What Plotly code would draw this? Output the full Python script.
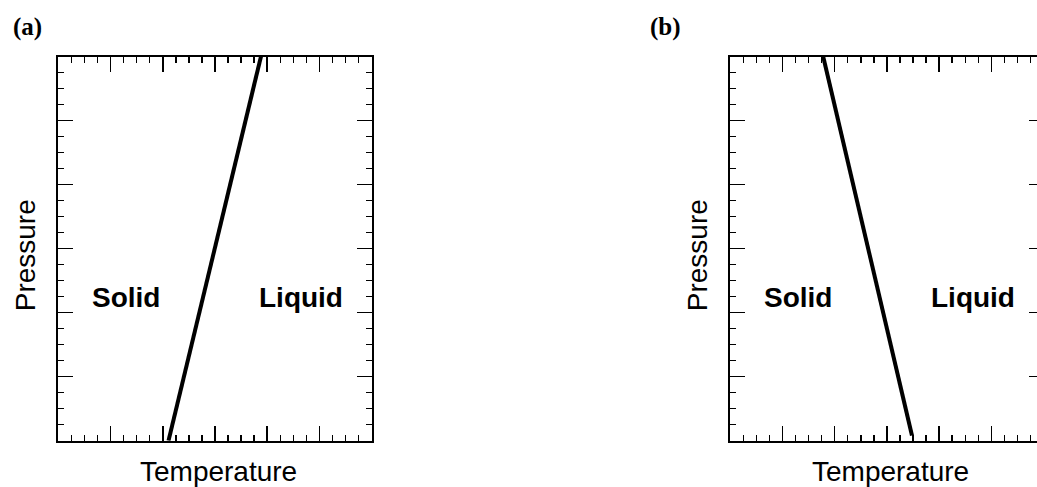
import plotly.graph_objects as go

# ---- data (phase boundary lines, arbitrary units 0..6) ----
temp_a = [2.11, 3.88]
pres_a = [0.0, 6.0]
temp_b = [3.48, 1.78]
pres_b = [0.08, 6.0]
region_labels = ["Solid", "Liquid"]
region_x = [1.30, 4.64]
region_y = [2.24, 2.24]
panel_labels = ["(a)", "(b)"]
x_title = "Temperature"
y_title = "Pressure"

# ---- layout geometry (pixels) ----
W, H = 1050, 487
A_L, A_R = 58.3, 371.7
B_L, B_R = 730.2, 1043.6
TOP, BOT = 56.5, 440.7

def px(x):
    return x / W

def py(y):
    return 1 - y / H

fig = go.Figure()
fig.add_trace(go.Scatter(x=temp_a, y=pres_a, mode="lines",
                         line=dict(color="black", width=4),
                         xaxis="x", yaxis="y", showlegend=False, hoverinfo="skip"))
fig.add_trace(go.Scatter(x=temp_b, y=pres_b, mode="lines",
                         line=dict(color="black", width=4),
                         xaxis="x2", yaxis="y2", showlegend=False, hoverinfo="skip"))

def axis(domain, anchor):
    return dict(domain=domain, anchor=anchor, range=[0, 6], dtick=1, tick0=0,
                showline=True, linecolor="black", linewidth=2, mirror="allticks",
                ticks="inside", ticklen=15, tickwidth=1.5, tickcolor="black",
                showgrid=False, zeroline=False, showticklabels=False, fixedrange=True,
                minor=dict(ticks="inside", ticklen=6, dtick=0.25, tick0=0,
                           tickwidth=1.5, tickcolor="black", showgrid=False))

ydom = [py(BOT), py(TOP)]
fig.update_layout(
    width=W, height=H, margin=dict(l=0, r=0, t=0, b=0),
    paper_bgcolor="white", plot_bgcolor="white",
    xaxis=axis([px(A_L), px(A_R)], "y"),
    yaxis=axis(ydom, "x"),
    xaxis2=axis([px(B_L), px(B_R)], "y2"),
    yaxis2=axis(ydom, "x2"),
)

ann = []
sans = "Liberation Sans, Arial, Helvetica, sans-serif"
serif = "Liberation Serif, Times New Roman, serif"
for (xr, yr, left, right, plab, plx) in [("x", "y", A_L, A_R, panel_labels[0], 11.0),
                                        ("x2", "y2", B_L, B_R, panel_labels[1], 648.0)]:
    for lab, lx, ly in zip(region_labels, region_x, region_y):
        ann.append(dict(text="<b>%s</b>" % lab, x=lx, y=ly, xref=xr, yref=yr,
                        xanchor="center", yanchor="middle", showarrow=False,
                        font=dict(family=sans, size=28, color="black")))
    ann.append(dict(text=x_title, x=px((left + right) / 2 + 3.5), y=py(471),
                    xref="paper", yref="paper", xanchor="center", yanchor="middle",
                    showarrow=False, font=dict(family=sans, size=28, color="black")))
    ann.append(dict(text=y_title, x=px(left - 33), y=py(255), textangle=-90,
                    xref="paper", yref="paper", xanchor="center", yanchor="middle",
                    showarrow=False, font=dict(family=sans, size=28, color="black")))
    ann.append(dict(text="<b>%s</b>" % plab, x=px(plx), y=py(27),
                    xref="paper", yref="paper", xanchor="left", yanchor="middle",
                    showarrow=False, font=dict(family=serif, size=25, color="black")))
fig.update_layout(annotations=ann)

fig.write_html("out.html", config={"displayModeBar": False, "staticPlot": True},
               post_script="document.documentElement.style.overflow='hidden';document.body.style.overflow='hidden';")
